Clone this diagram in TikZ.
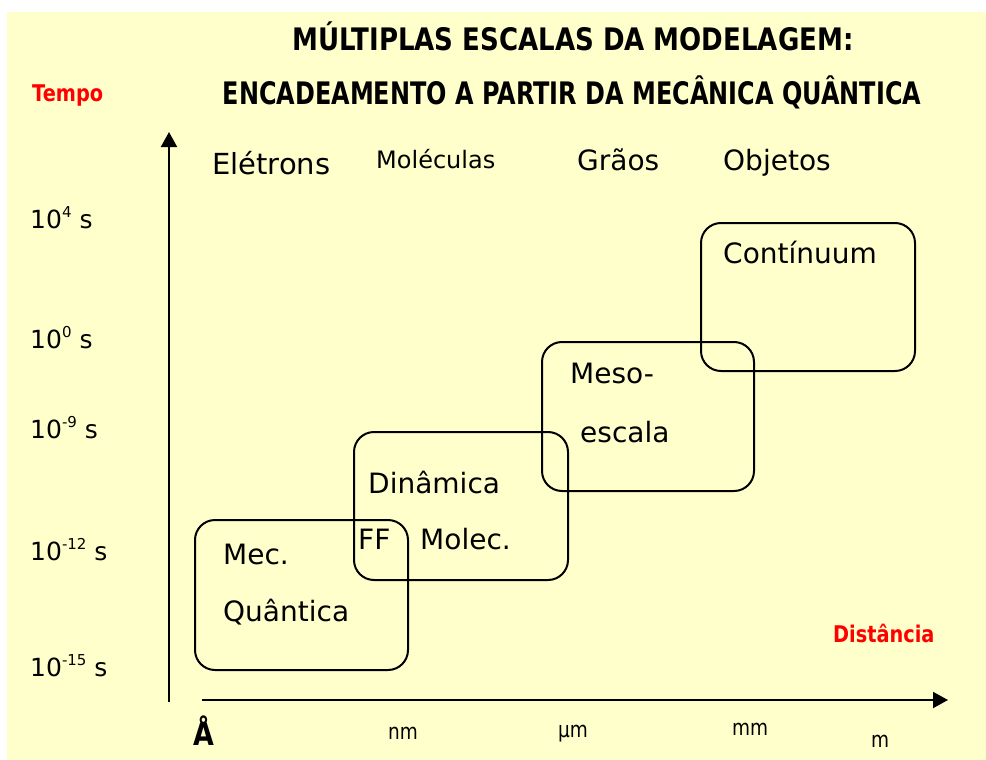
\documentclass[tikz,border=0pt]{standalone}
\usepackage{fontspec}
\setmainfont{DejaVu Sans}
\newfontfamily\estreita{DejaVu Sans}[FakeStretch=0.84]
\usetikzlibrary{arrows.meta}
\definecolor{fundo}{HTML}{FFFFCC}
\newcommand{\tam}[1]{\fontsize{#1}{#1}\selectfont}
\newcommand{\pot}[1]{10\raisebox{11pt}{\tam{15}#1} s}
\tikzset{
  rotulo/.style={anchor=base west, inner sep=0pt, font=\tam{28}},
  escala/.style={anchor=base west, inner sep=0pt, font=\tam{25}},
  unidade/.style={anchor=base, inner sep=0pt, font=\estreita\tam{22}},
  titulo/.style={anchor=base, inner sep=0pt, font=\estreita\bfseries\tam{31}},
  eixotxt/.style={anchor=base west, inner sep=0pt, text=red, font=\estreita\bfseries},
  caixa/.style={line width=2pt, rounded corners=20pt},
  eixo/.style={line width=2pt, -{Triangle[length=15pt,width=16pt]}},
}

\begin{document}
\begin{tikzpicture}[x=1pt, y=-1pt]
	%%%%% FUNDO %%%%%
	\useasboundingbox (0, 0) rectangle (986, 760);
	\fill[white] (0, 0) rectangle (986, 760);
	\fill[fundo] (7, 12) rectangle (986, 760);
	
	%%%%% TITULOS %%%%%
	\node[titulo] (tit1) at (573, 51) {MÚLTIPLAS ESCALAS DA MODELAGEM:};
	\node[titulo] (tit2) at (572, 105) {\scalebox{0.92}[1]{ENCADEAMENTO A PARTIR DA MECÂNICA QUÂNTICA}};
	\node[eixotxt, font=\estreita\bfseries\tam{23}] (tempo) at (32, 102) {Tempo};
	\node[eixotxt, font=\estreita\bfseries\tam{23}] (dist) at (833, 642) {Distância};
	
	%%%%% EIXOS %%%%%
	\coordinate (ybase) at (169, 702);
	\coordinate (ytopo) at (169, 132);
	\coordinate (xbase) at (202, 700);
	\coordinate (xfim) at (948, 700);
	\draw[eixo] (ybase) -- (ytopo);
	\draw[eixo] (xbase) -- (xfim);
	
	\node[escala] (t4) at (30, 228) {\pot{4}};
	\node[escala] (t0) at (30, 348) {\pot{0}};
	\node[escala] (t9) at (30, 438) {\pot{-9}};
	\node[escala] (t12) at (30, 560) {\pot{-12}};
	\node[escala] (t15) at (30, 676) {\pot{-15}};
	
	\node[anchor=base, inner sep=0pt, font=\estreita\bfseries\tam{32}] (ang) at (204, 745) {Å};
	\node[unidade] (nm) at (403, 739) {nm};
	\node[unidade] (um) at (573, 737) {µm};
	\node[unidade] (mm) at (750, 735) {mm};
	\node[unidade] (m) at (880, 747) {m};
	
	%%%%% OBJETOS %%%%%
	\node[rotulo, font=\tam{29}] (eletrons) at (212, 174) {Elétrons};
	\node[rotulo, font=\tam{24}] (moleculas) at (376, 168) {Moléculas};
	\node[rotulo, font=\tam{28}] (graos) at (577, 170) {Grãos};
	\node[rotulo, font=\tam{28}] (objetos) at (723, 170) {Objetos};
	
	%%%%% CAIXAS %%%%%
	\draw[caixa] (195, 520) rectangle (408, 670);
	\draw[caixa] (354, 432) rectangle (568, 580);
	\draw[caixa] (542, 342) rectangle (754, 491);
	\draw[caixa] (701, 223) rectangle (915, 371);
	
	\node[rotulo] (mec) at (223, 564) {Mec.};
	\node[rotulo] (quant) at (223, 621) {Quântica};
	\node[rotulo] (din) at (368, 493) {Dinâmica};
	\node[rotulo] (ff) at (358, 549) {FF};
	\node[rotulo] (molec) at (420, 549) {Molec.};
	\node[rotulo] (meso) at (570, 383) {Meso-};
	\node[rotulo] (esc) at (580, 442) {escala};
	\node[rotulo] (cont) at (723, 263) {Contínuum};
	
\end{tikzpicture}
\end{document}
